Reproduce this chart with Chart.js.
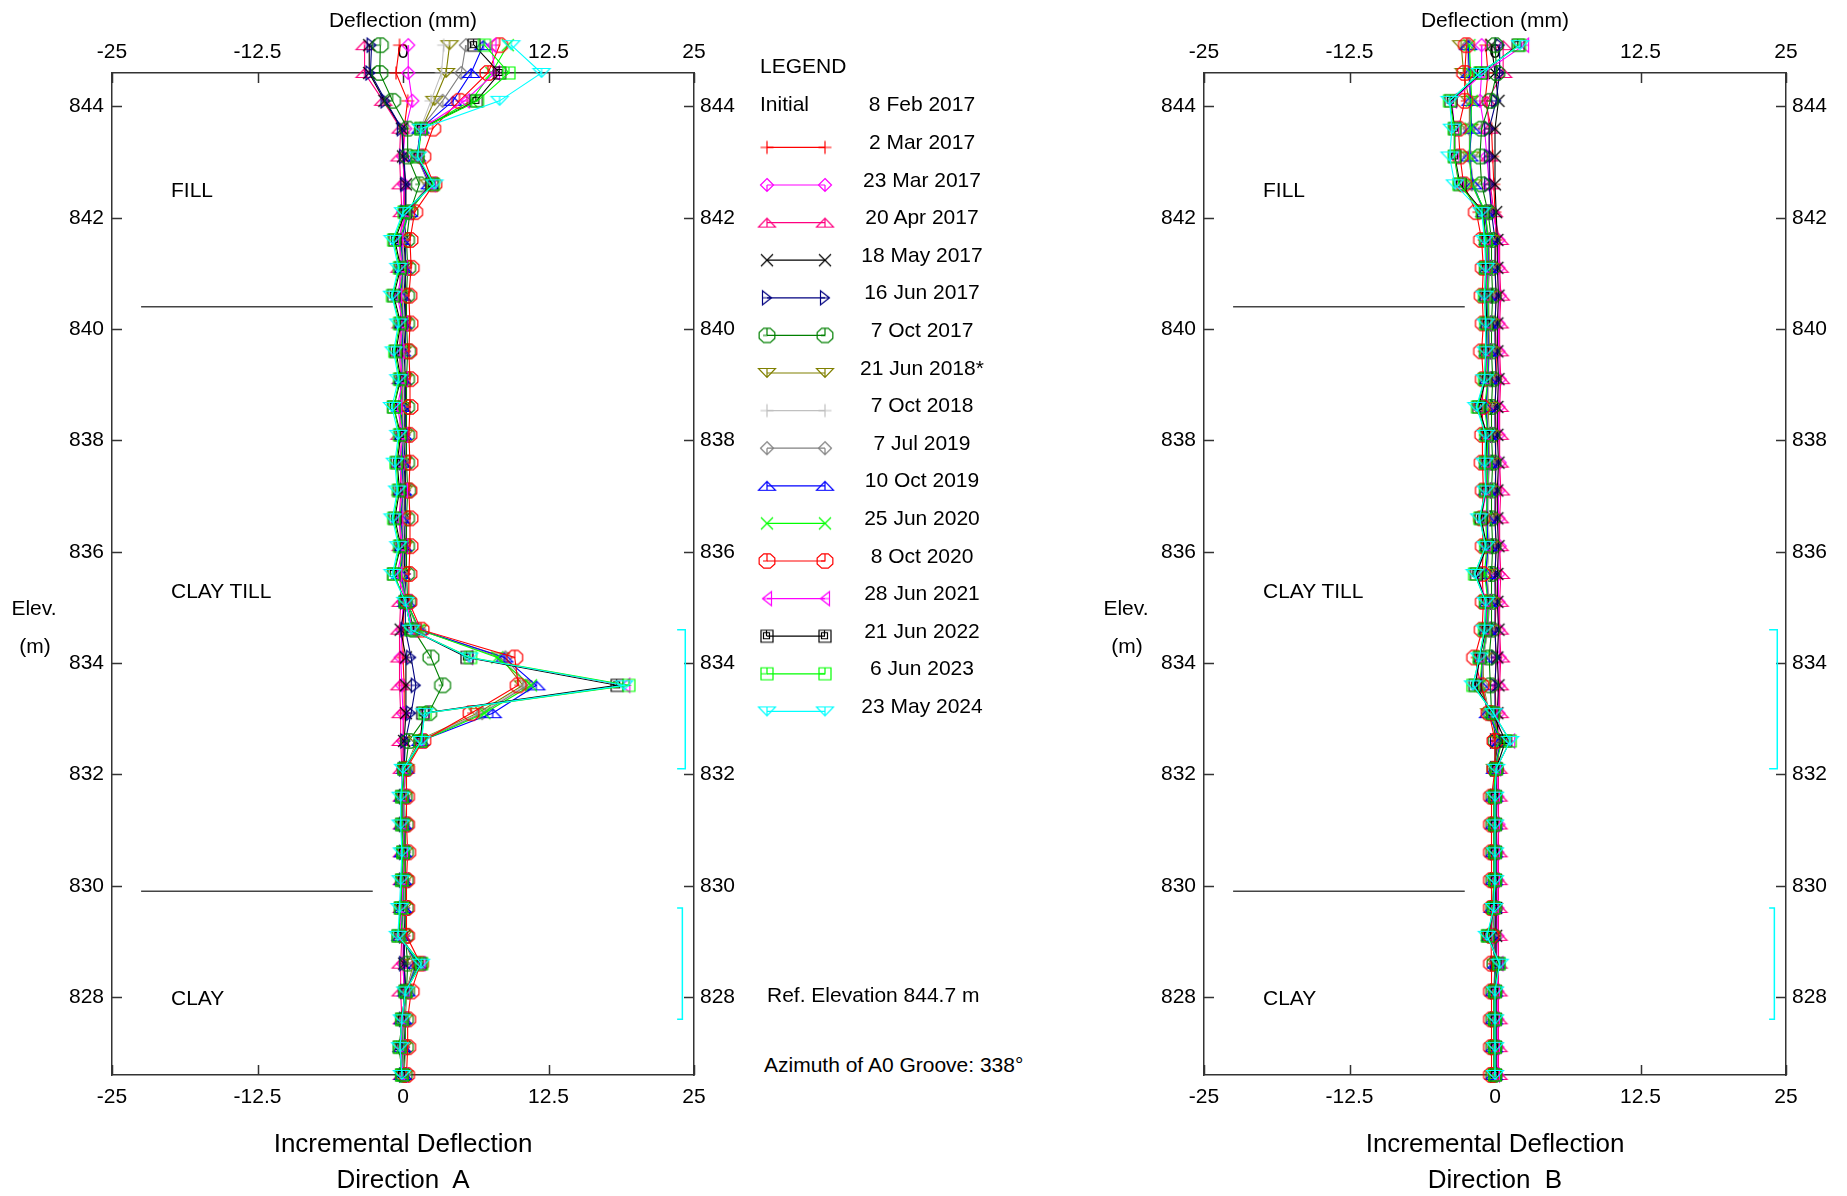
<!DOCTYPE html>
<html><head><meta charset="utf-8">
<script src="https://cdn.jsdelivr.net/npm/chart.js@4.4.0/dist/chart.umd.min.js"></script>
<style>
html,body{margin:0;padding:0;background:#fff;width:1847px;height:1196px;overflow:hidden;font-family:"Liberation Sans",Arial,sans-serif;color:#000}
canvas{position:absolute}
.t{position:absolute;white-space:pre;line-height:1;font-size:21px}
.c{transform:translate(-50%,-50%)}
.l{transform:translate(0,-50%)}
.big{font-size:26px}
</style></head><body>
<canvas id="cA" width="760" height="1196" style="left:0;top:0;width:760px;height:1196px"></canvas>
<canvas id="cB" width="747" height="1196" style="left:1100px;top:0;width:747px;height:1196px"></canvas>
<canvas id="leg" width="260" height="700" style="left:740px;top:40px;width:260px;height:700px"></canvas>
<div id="txt"></div>
<script>
// ---------- DATA ----------
const ELEVATIONS = [845.1,844.6,844.1,843.6,843.1,842.6,842.1,841.6,841.1,840.6,840.1,839.6,839.1,838.6,838.1,837.6,837.1,836.6,836.1,835.6,835.1,834.6,834.1,833.6,833.1,832.6,832.1,831.6,831.1,830.6,830.1,829.6,829.1,828.6,828.1,827.6,827.1,826.6];
const X_TICKS = [-25,-12.5,0,12.5,25];
const Y_TICKS = [828,830,832,834,836,838,840,842,844];
const SERIES_LABELS = ['2 Mar 2017','23 Mar 2017','20 Apr 2017','18 May 2017','16 Jun 2017','7 Oct 2017','21 Jun 2018*','7 Oct 2018','7 Jul 2019','10 Oct 2019','25 Jun 2020','8 Oct 2020','28 Jun 2021','21 Jun 2022','6 Jun 2023','23 May 2024'];

// Direction A incremental deflection (mm), top to bottom
const a_2mar17  = [-0.3,-0.6,0.4,0.1,0.0,0.1,0.1, 0.0,0.1,0.0,0.0,0.1,0.0,0.1,0.0,0.0,0.1,0.0,0.0,0.1,0.1, 0.0,0.0,0.1,0.1,0.0,0.0, 0.1,0.0,0.0,0.1,0.0,0.1,0.0,0.1,0.0,0.0,0.0];
const a_23mar17 = [0.45,0.45,0.8,0.2,0.0,0.1,0.0, 0.0,0.0,-0.1,0.0,0.0,-0.1,0.0,0.0,-0.1,0.0,0.0,-0.1,0.0,0.0, -0.1,-0.2,-0.1,0.0,0.0,0.0, 0.0,0.0,0.0,0.0,0.0,0.0,0.0,0.1,0.0,0.0,0.0];
const a_20apr17 = [-3.3,-3.3,-1.7,-0.2,-0.3,-0.2,-0.1, -0.2,-0.3,-0.2,-0.2,-0.3,-0.2,-0.2,-0.3,-0.2,-0.2,-0.3,-0.2,-0.2,-0.2, -0.3,-0.3,-0.3,-0.2,-0.2,-0.1, -0.1,-0.1,-0.1,-0.1,-0.1,-0.1,-0.2,-0.2,-0.1,-0.1,-0.1];
const a_18may17 = [-2.9,-2.9,-1.6,-0.1,0.0,0.25,0.25, 0.1,0.2,0.2,0.2,0.1,0.2,0.2,0.1,0.2,0.2,0.1,0.2,0.1,0.2, -0.2,0.25,0.25,0.25,0.1,0.1, 0.1,0.1,0.1,0.1,0.1,0.1,0.1,0.25,0.1,0.1,0.1];
const a_16jun17 = [-2.7,-2.8,-1.5,-0.1,0.1,0.2,0.2, 0.2,0.2,0.1,0.2,0.2,0.1,0.2,0.2,0.1,0.2,0.2,0.1,0.2,0.2, 0.2,0.7,1.1,0.7,0.2,0.1, 0.1,0.1,0.1,0.1,0.1,0.1,0.1,0.2,0.1,0.1,0.1];
const a_7oct17  = [-1.95,-2.0,-0.9,0.4,0.4,1.4,0.6, 0.3,0.4,0.3,0.3,0.4,0.3,0.3,0.3,0.3,0.4,0.3,0.3,0.3,0.4, 0.9,2.4,3.4,2.2,0.5,0.2, 0.1,0.2,0.2,0.2,0.2,0.2,0.4,0.3,0.2,0.2,0.1];
const a_21jun18 = [4.0,3.7,2.7,1.6,1.2,2.2,0.4, 0.0,0.1,-0.1,0.1,0.0,0.1,-0.1,0.1,0.0,0.1,0.0,0.1,-0.1,0.3, 1.3,8.4,10.3,6.4,1.2,0.2, 0.1,0.0,0.1,0.1,0.0,0.0,0.9,0.3,0.1,0.0,0.1];
const a_7oct18  = [3.5,3.3,2.4,1.5,1.2,2.2,0.4, 0.0,0.1,0.0,0.1,0.0,0.1,0.0,0.1,0.0,0.0,0.1,0.0,0.0,0.3, 1.3,8.6,10.5,6.6,1.3,0.2, 0.1,0.1,0.0,0.1,0.1,0.0,1.0,0.3,0.1,0.0,0.1];
const a_7jul19  = [5.4,5.0,3.4,1.5,1.3,2.3,0.4, -0.1,0.0,-0.2,0.0,0.0,-0.1,-0.2,0.0,0.0,0.0,-0.1,0.0,-0.1,0.3, 1.4,8.8,10.7,6.8,1.4,0.2, 0.0,0.0,0.1,0.0,0.0,-0.1,1.1,0.3,0.0,0.0,0.1];
const a_10oct19 = [6.9,5.85,4.3,1.5,1.2,2.3,0.5, -0.2,0.0,-0.2,0.0,-0.1,-0.1,-0.2,0.0,-0.1,0.0,-0.2,0.0,-0.2,0.3, 1.4,8.7,11.45,7.7,1.5,0.2, 0.0,0.0,0.0,0.0,0.0,-0.2,1.2,0.3,0.0,-0.1,0.0];
const a_25jun20 = [9.0,7.6,5.85,1.6,1.3,2.4,0.5, -0.3,0.0,-0.3,0.0,-0.2,0.0,-0.3,0.0,-0.2,0.0,-0.3,0.0,-0.3,0.3, 1.4,8.1,11.0,7.0,1.6,0.2, 0.0,0.0,0.0,0.0,0.0,-0.2,1.3,0.3,0.0,-0.1,0.0];
const a_8oct20  = [8.3,7.3,4.85,2.55,1.7,2.65,1.0, 0.6,0.7,0.5,0.6,0.5,0.6,0.6,0.5,0.6,0.5,0.6,0.6,0.5,0.5, 1.55,9.6,9.9,5.85,1.7,0.3, 0.3,0.3,0.4,0.3,0.3,0.3,1.5,0.7,0.4,0.4,0.3];
const a_28jun21 = [7.6,7.9,5.3,1.55,1.25,2.4,0.3, -0.4,0.0,-0.5,0.0,-0.3,0.0,-0.5,0.0,-0.3,0.0,-0.4,0.0,-0.5,0.3, 0.8,5.6,19.1,1.85,1.4,0.2, 0.0,0.0,0.0,0.0,-0.1,-0.3,1.5,0.2,0.0,-0.2,0.0];
const a_21jun22 = [6.1,8.3,6.3,1.55,1.25,2.5,0.2, -0.7,-0.2,-0.8,-0.2,-0.6,-0.2,-0.8,-0.2,-0.5,-0.3,-0.7,-0.2,-0.8,0.2, 0.7,5.5,18.4,1.7,1.5,0.1, -0.1,-0.1,0.0,-0.1,-0.2,-0.4,1.5,0.2,-0.1,-0.3,-0.1];
const a_6jun23  = [7.0,9.1,6.4,1.55,1.25,2.6,0.1, -0.8,-0.3,-0.9,-0.3,-0.7,-0.3,-0.8,-0.3,-0.6,-0.4,-0.8,-0.3,-0.8,0.2, 0.7,5.8,19.4,1.9,1.5,0.1, -0.1,-0.1,0.0,-0.1,-0.2,-0.4,1.6,0.2,-0.1,-0.3,-0.1];
const a_23may24 = [9.3,11.9,8.3,1.55,1.25,2.7,0.0, -0.9,-0.4,-0.95,-0.4,-0.8,-0.4,-0.95,-0.4,-0.7,-0.5,-0.9,-0.4,-0.9,0.2, 0.7,5.7,19.0,1.85,1.6,0.0, -0.2,-0.2,-0.1,-0.2,-0.3,-0.45,1.55,0.2,-0.1,-0.25,-0.1];

// Direction B incremental deflection (mm), top to bottom
const b_2mar17  = [-0.8,-0.6,-0.85,-0.3,-0.2,-0.1,0.0, 0.1,0.0,0.1,0.0,0.1,0.1,0.0,0.1,0.0,0.1,0.0,0.1,0.0,0.1, 0.0,0.1,0.0,0.1,0.1,0.0, 0.0,0.1,0.0,0.0,0.1,0.0,0.0,0.1,0.0,0.0,0.0];
const b_23mar17 = [-1.15,-1.15,-1.3,-0.9,-0.7,-0.5,-0.2, 0.3,0.3,0.4,0.3,0.3,0.4,0.3,0.3,0.4,0.3,0.3,0.4,0.3,0.3, 0.3,0.4,0.3,0.3,0.2,0.2, 0.2,0.3,0.2,0.2,0.2,0.2,0.3,0.2,0.2,0.2,0.2];
const b_20apr17 = [0.7,0.7,-0.7,-0.5,-0.5,-0.4,-0.1, 0.4,0.4,0.5,0.4,0.4,0.5,0.4,0.4,0.4,0.5,0.4,0.4,0.5,0.4, 0.4,0.5,0.4,0.4,0.3,0.3, 0.3,0.3,0.3,0.3,0.3,0.3,0.3,0.3,0.3,0.3,0.3];
const b_18may17 = [-0.3,0.0,0.3,0.0,0.0,0.0,0.1, 0.2,0.2,0.3,0.2,0.2,0.3,0.2,0.2,0.3,0.2,0.2,0.3,0.2,0.2, 0.3,0.2,0.3,0.2,0.2,0.1, 0.1,0.1,0.1,0.1,0.1,0.1,0.1,0.1,0.1,0.1,0.1];
const b_16jun17 = [0.4,0.4,0.1,-0.5,-0.5,-0.5,-0.3, 0.0,0.0,0.1,0.0,0.0,0.1,0.0,0.0,0.1,0.0,0.0,0.1,0.0,0.0, 0.0,0.1,0.0,0.0,0.0,0.0, 0.0,0.0,0.0,0.0,0.0,0.0,0.0,0.0,0.0,0.0,0.0];
const b_7oct17  = [0.0,0.15,-0.4,-1.15,-1.3,-1.15,-0.6, -0.3,-0.3,-0.2,-0.3,-0.3,-0.2,-0.3,-0.3,-0.2,-0.3,-0.3,-0.2,-0.3,-0.3, -0.3,-0.5,-0.4,-0.3,0.1,0.0, -0.1,-0.1,-0.1,-0.1,-0.1,-0.2,0.0,-0.1,-0.1,-0.1,-0.1];
const b_21jun18 = [-2.9,-2.7,-2.2,-2.2,-2.1,-1.9,-0.9, -0.5,-0.5,-0.6,-0.5,-0.5,-0.6,-0.6,-0.5,-0.5,-0.6,-0.6,-0.5,-0.7,-0.5, -0.6,-1.0,-1.0,-0.5,0.4,0.0, -0.1,-0.1,-0.1,-0.1,-0.1,-0.3,0.1,-0.1,-0.1,-0.1,-0.1];
const b_7oct18  = [-2.4,-2.3,-2.1,-2.1,-2.1,-1.9,-0.9, -0.5,-0.6,-0.5,-0.5,-0.6,-0.5,-0.7,-0.5,-0.6,-0.5,-0.6,-0.5,-0.7,-0.5, -0.6,-1.0,-1.1,-0.5,0.4,0.0, -0.1,-0.1,-0.1,-0.1,-0.1,-0.3,0.1,-0.1,-0.1,-0.1,-0.1];
const b_7jul19  = [-2.3,-2.2,-2.1,-2.2,-2.2,-2.0,-0.9, -0.6,-0.5,-0.6,-0.6,-0.5,-0.6,-0.7,-0.6,-0.5,-0.6,-0.7,-0.6,-0.8,-0.5, -0.6,-1.1,-1.1,-0.6,0.5,0.0, -0.1,-0.1,-0.1,-0.1,-0.1,-0.4,0.1,-0.1,-0.1,-0.1,-0.1];
const b_10oct19 = [-2.3,-2.2,-2.1,-2.0,-2.2,-1.9,-0.9, -0.6,-0.6,-0.7,-0.6,-0.6,-0.6,-0.8,-0.6,-0.6,-0.7,-0.7,-0.6,-0.8,-0.6, -0.7,-1.1,-1.2,-0.6,0.5,0.0, -0.1,-0.1,-0.1,-0.1,-0.2,-0.4,0.1,-0.1,-0.1,-0.1,-0.1];
const b_25jun20 = [-2.2,-2.1,-2.0,-2.1,-2.2,-2.0,-0.8, -0.6,-0.7,-0.6,-0.6,-0.7,-0.6,-0.9,-0.6,-0.7,-0.6,-0.8,-0.7,-0.9,-0.6, -0.7,-1.1,-1.3,-0.5,0.6,0.0, -0.1,-0.1,-0.1,-0.1,-0.2,-0.5,0.2,-0.1,-0.1,-0.1,-0.1];
const b_8oct20  = [-2.45,-2.6,-2.6,-3.15,-3.0,-2.7,-1.6, -1.15,-1.0,-1.1,-1.0,-1.15,-1.0,-1.1,-1.05,-1.1,-1.0,-1.15,-1.0,-1.1,-1.0, -1.1,-1.75,-1.2,-0.5,0.0,0.0, -0.3,-0.3,-0.3,-0.3,-0.3,-0.35,-0.3,-0.3,-0.3,-0.3,-0.3];
const b_28jun21 = [2.5,-1.0,-3.7,-3.5,-3.5,-3.1,-1.0, -0.8,-0.7,-0.8,-0.7,-0.7,-0.8,-1.4,-0.7,-0.8,-0.7,-1.2,-0.8,-1.6,-0.7, -0.8,-1.3,-1.7,-0.2,1.3,0.1, 0.0,0.0,0.0,0.0,-0.1,-0.6,0.3,0.0,0.0,0.0,0.0];
const b_21jun22 = [2.0,-1.2,-3.8,-3.45,-3.45,-3.0,-1.0, -0.8,-0.8,-0.8,-0.7,-0.8,-0.8,-1.4,-0.7,-0.8,-0.8,-1.2,-0.7,-1.6,-0.8, -0.8,-1.3,-1.7,-0.2,0.9,0.1, 0.0,0.0,0.0,0.0,-0.1,-0.6,0.3,0.0,0.0,0.0,0.0];
const b_6jun23  = [2.1,-1.3,-3.9,-3.5,-3.5,-3.1,-1.1, -0.8,-0.8,-0.9,-0.8,-0.8,-0.9,-1.5,-0.8,-0.8,-0.8,-1.3,-0.8,-1.75,-0.8, -0.9,-1.35,-1.9,-0.15,1.3,0.1, 0.0,0.0,0.0,0.0,-0.1,-0.65,0.35,0.0,0.0,0.0,0.0];
const b_23may24 = [2.15,-1.3,-3.9,-3.7,-3.9,-3.45,-1.15, -0.9,-0.8,-0.9,-0.8,-0.8,-0.9,-1.6,-0.8,-0.9,-0.8,-1.35,-0.8,-1.75,-0.8, -0.9,-1.35,-1.9,-0.13,1.3,0.1, 0.0,0.0,0.0,0.0,-0.1,-0.7,0.4,0.0,0.0,0.0,0.0];

const SERIES_A = [a_2mar17,a_23mar17,a_20apr17,a_18may17,a_16jun17,a_7oct17,a_21jun18,a_7oct18,a_7jul19,a_10oct19,a_25jun20,a_8oct20,a_28jun21,a_21jun22,a_6jun23,a_23may24];
const SERIES_B = [b_2mar17,b_23mar17,b_20apr17,b_18may17,b_16jun17,b_7oct17,b_21jun18,b_7oct18,b_7jul19,b_10oct19,b_25jun20,b_8oct20,b_28jun21,b_21jun22,b_6jun23,b_23may24];

// Layer boundaries (elevation, m) and the short boundary line extent (mm)
const LAYER_ELEV = [840.4, 829.9];
const LAYER_X = [-22.5, -2.6];
// Shear-zone brackets (elevation ranges, m)
const BRACKET_TOP = [834.6, 829.6];
const BRACKET_BOTTOM = [832.1, 827.6];

// ---------- STYLES ----------
const COLORS = ['#ff0000','#ff00ff','#ff0080','#000000','#000080','#008000','#808000','#c0c0c0','#808080','#0000ff','#00ff00','#ff0000','#ff00ff','#000000','#00ff00','#00ffff'];
const SHAPES = ['plus','diamond','triUp','cross','triRight','oct','triDown','plus','diamond','triUp','cross','oct','triLeft','sq2','sq','triDown'];
const BRACKET_X_IN = [23.55, 23.55];
const BRACKET_X_OUT = [24.25, 24.0];
const AXIS_COLOR = '#333333';
const FONT = "'Liberation Sans', Arial, sans-serif";

[...SERIES_A, ...SERIES_B].forEach((s,i)=>{ if (s.length !== ELEVATIONS.length) throw new Error('bad length in series '+i+': '+s.length); });

function makeSprite(shape, color){
  const W=22,H=22,cx=11,cy=11;
  const c=document.createElement('canvas'); c.width=W; c.height=H;
  const g=c.getContext('2d'); g.strokeStyle=color; g.lineWidth=1.2; g.beginPath();
  switch(shape){
    case 'plus': g.moveTo(cx-6.5,cy);g.lineTo(cx+6.5,cy);g.moveTo(cx,cy-6.5);g.lineTo(cx,cy+6.5);break;
    case 'cross': g.moveTo(cx-6,cy-6);g.lineTo(cx+6,cy+6);g.moveTo(cx+6,cy-6);g.lineTo(cx-6,cy+6);break;
    case 'diamond': g.moveTo(cx,cy-6.5);g.lineTo(cx+6.5,cy);g.lineTo(cx,cy+6.5);g.lineTo(cx-6.5,cy);g.closePath();g.moveTo(cx,cy);g.lineTo(cx,cy+6.5);break;
    case 'triUp': g.moveTo(cx-8.5,cy+4.5);g.lineTo(cx,cy-4.5);g.lineTo(cx+8.5,cy+4.5);g.closePath();g.moveTo(cx,cy-4.5);g.lineTo(cx,cy+4.5);break;
    case 'triDown': g.moveTo(cx-8.5,cy-4.5);g.lineTo(cx+8.5,cy-4.5);g.lineTo(cx,cy+4.5);g.closePath();g.moveTo(cx,cy-4.5);g.lineTo(cx,cy+4.5);break;
    case 'triRight': g.moveTo(cx-4.5,cy-7);g.lineTo(cx+4.5,cy);g.lineTo(cx-4.5,cy+7);g.closePath();g.moveTo(cx-4.5,cy);g.lineTo(cx+4.5,cy);break;
    case 'triLeft': g.moveTo(cx+4.5,cy-7);g.lineTo(cx-4.5,cy);g.lineTo(cx+4.5,cy+7);g.closePath();g.moveTo(cx-4.5,cy);g.lineTo(cx+4.5,cy);break;
    case 'oct': {
      const rx=8.5, ry=7.8;
      for(let k=0;k<8;k++){const a=Math.PI/8+k*Math.PI/4; const px=cx+rx*Math.cos(a), py=cy+ry*Math.sin(a); if(k===0) g.moveTo(px,py); else g.lineTo(px,py);}
      g.closePath(); g.moveTo(cx,cy-ry); g.lineTo(cx,cy); g.lineTo(cx-4,cy); break; }
    case 'sq2': g.rect(cx-6,cy-6,12,12); g.rect(cx-3.5,cy-3.5,6,6); g.moveTo(cx-0.5,cy-6);g.lineTo(cx-0.5,cy); break;
    case 'sq': g.rect(cx-6,cy-6,12,12); g.moveTo(cx,cy-6); g.lineTo(cx,cy); g.lineTo(cx-6,cy); break;
  }
  g.stroke(); return c;
}
const SPRITES = SHAPES.map((s,i)=>makeSprite(s, COLORS[i]));

const inwardTicks = {
  id:'inwardTicks',
  beforeDatasetsDraw(chart){
    const ctx=chart.ctx, a=chart.chartArea, TL=10;
    ctx.save(); ctx.strokeStyle=AXIS_COLOR; ctx.lineWidth=1.5; ctx.beginPath();
    X_TICKS.forEach(v=>{const p=Math.round(chart.scales.x.getPixelForValue(v))+0.5; ctx.moveTo(p,a.bottom); ctx.lineTo(p,a.bottom-TL); ctx.moveTo(p,a.top); ctx.lineTo(p,a.top+TL);});
    Y_TICKS.forEach(v=>{const p=Math.round(chart.scales.y.getPixelForValue(v))+0.5; ctx.moveTo(a.left,p); ctx.lineTo(a.left+TL,p); ctx.moveTo(a.right,p); ctx.lineTo(a.right-TL,p);});
    ctx.stroke(); ctx.restore();
  }
};

function xScale(pos, h, pad){
  return {type:'linear', axis:'x', position:pos, min:-25, max:25,
    afterBuildTicks:s=>{s.ticks=X_TICKS.map(v=>({value:v}));},
    afterFit:s=>{s.height=h;},
    grid:{display:false, drawTicks:false},
    border:{display:true, color:AXIS_COLOR, width:1.5},
    ticks:{padding:pad, autoSkip:false, maxRotation:0, color:'#000', font:{family:FONT,size:21}, callback:v=>String(v)}};
}
function yScale(pos, w, pad){
  return {type:'linear', axis:'y', position:pos, min:826.6, max:844.6,
    afterBuildTicks:s=>{s.ticks=Y_TICKS.map(v=>({value:v}));},
    afterFit:s=>{s.width=w;},
    grid:{display:false, drawTicks:false},
    border:{display:true, color:AXIS_COLOR, width:1.5},
    ticks:{padding:pad, autoSkip:false, color:'#000', font:{family:FONT,size:21}, callback:v=>String(v)}};
}

function buildChart(id, seriesList, leftW, rightW){
  const datasets=[];
  seriesList.forEach((vals,i)=>{
    // pointRadius only widens the in-area test (sprites are drawn at their own size),
    // so the topmost reading just above the frame is still drawn, as in the reference
    datasets.push({label:SERIES_LABELS[i], data:ELEVATIONS.map((e,k)=>({x:vals[k], y:e})),
      borderColor:COLORS[i], borderWidth:1.1, pointStyle:SPRITES[i], pointRadius:34, pointHoverRadius:34, pointBorderWidth:0,
      showLine:true, fill:false, clip:false, tension:0, order:100-i});
  });
  LAYER_ELEV.forEach(e=>datasets.push({label:'layer', data:LAYER_X.map(x=>({x:x,y:e})), borderColor:'#444444', borderWidth:1.5, pointRadius:0, pointHoverRadius:0, showLine:true, order:300}));
  BRACKET_TOP.forEach((t,j)=>datasets.push({label:'zone', data:[{x:BRACKET_X_IN[j],y:t},{x:BRACKET_X_OUT[j],y:t},{x:BRACKET_X_OUT[j],y:BRACKET_BOTTOM[j]},{x:BRACKET_X_IN[j],y:BRACKET_BOTTOM[j]}], borderColor:'#00ffff', borderWidth:1.5, pointRadius:0, pointHoverRadius:0, showLine:true, order:300}));
  return new Chart(document.getElementById(id), {
    type:'scatter',
    data:{datasets},
    options:{responsive:false, animation:false, devicePixelRatio:1, events:[],
      layout:{padding:0, autoPadding:false},
      plugins:{legend:{display:false}, tooltip:{enabled:false}},
      scales:{ x:xScale('bottom',121,10), x2:xScale('top',73,8), y:yScale('left',leftW,8), y2:yScale('right',rightW,6) }
    },
    plugins:[inwardTicks]
  });
}
buildChart('cA', SERIES_A, 112, 66);
buildChart('cB', SERIES_B, 104, 61);

// ---------- legend samples ----------
(function(){
  const g=document.getElementById('leg').getContext('2d');
  const ox=740, oy=40;
  SERIES_LABELS.forEach((lab,i)=>{
    const y=103.3+37.6*(i+1)+6.5-oy; const x0=767-ox, x1=825-ox;
    g.strokeStyle=COLORS[i]; g.lineWidth=1.2; g.beginPath(); g.moveTo(x0,y); g.lineTo(x1,y); g.stroke();
    g.drawImage(SPRITES[i], x0-11, y-11); g.drawImage(SPRITES[i], x1-11, y-11);
  });
})();

// ---------- text ----------
const TEXTS = [
  ['Deflection (mm)',403,19,'c',''],['Deflection (mm)',1495,19,'c',''],
  ['Incremental Deflection',403,1143,'c','big'],['Direction  A',403,1179,'c','big'],
  ['Incremental Deflection',1495,1143,'c','big'],['Direction  B',1495,1179,'c','big'],
  ['Elev.',34,607,'c',''],['(m)',35,645,'c',''],['Elev.',1126,607,'c',''],['(m)',1127,645,'c',''],
  ['FILL',171,189,'l',''],['CLAY TILL',171,590,'l',''],['CLAY',171,997,'l',''],
  ['FILL',1263,189,'l',''],['CLAY TILL',1263,590,'l',''],['CLAY',1263,997,'l',''],
  ['LEGEND',760,65,'l',''],['Initial',760,103.3,'l',''],['8 Feb 2017',922,103.3,'c',''],
  ['Ref. Elevation 844.7 m',767,994,'l',''],['Azimuth of A0 Groove: 338\u00B0',764,1064,'l','']
];
SERIES_LABELS.forEach((lab,i)=>TEXTS.push([lab,922,103.3+37.6*(i+1),'c','']));
const holder=document.getElementById('txt');
TEXTS.forEach(([s,x,y,al,cls])=>{const d=document.createElement('div'); d.className='t '+al+(cls?' '+cls:''); d.style.left=x+'px'; d.style.top=y+'px'; d.textContent=s; holder.appendChild(d);});
</script>
</body></html>
